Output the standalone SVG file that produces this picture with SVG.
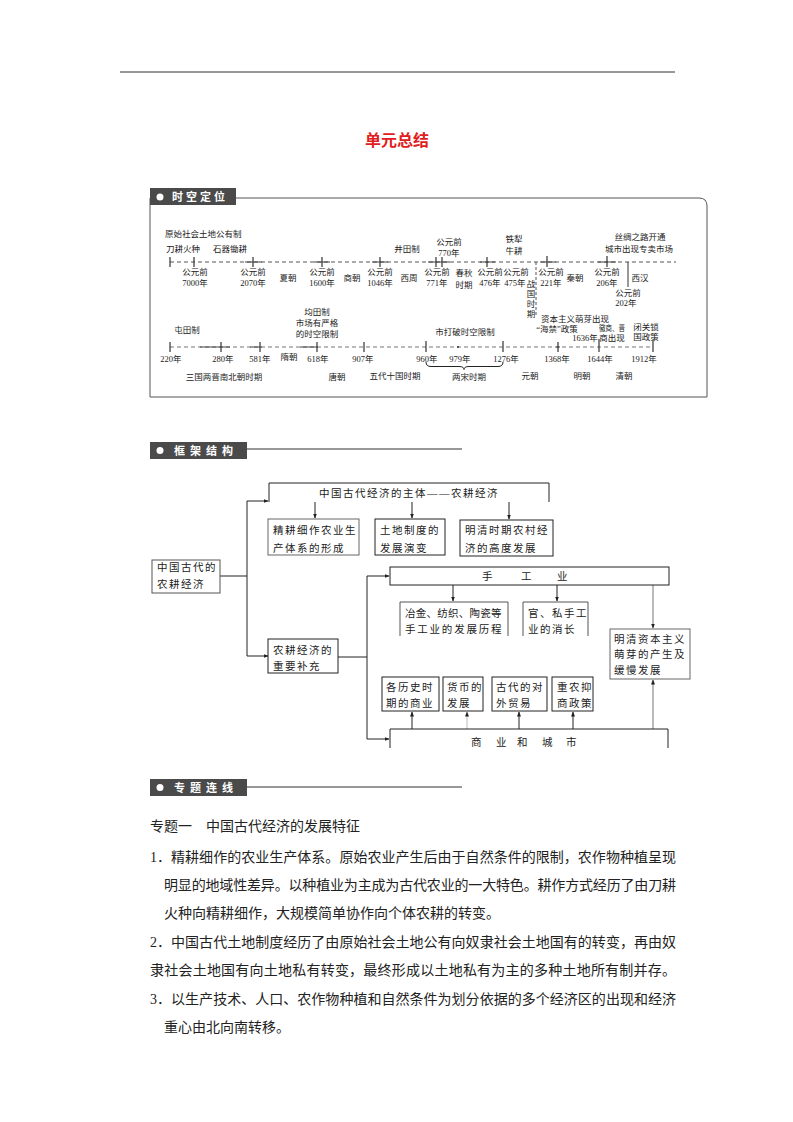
<svg xmlns="http://www.w3.org/2000/svg" width="793" height="1122" viewBox="0 0 793 1122">
<defs>
<marker id="ah" viewBox="0 0 10 10" refX="9" refY="5" markerWidth="5" markerHeight="5" orient="auto">
<path d="M0,1 L10,5 L0,9 z" fill="#222"/>
</marker>
<style>
text{font-family:'Liberation Serif','Noto Sans CJK SC',serif;fill:#222;}
.t{font-size:8.5px;}
.tm{font-size:8.5px;text-anchor:middle;}
.f{font-size:10.5px;letter-spacing:1.5px;}
.body{font-size:14px;}
.tab{fill:#4a4a4a;}
.tabt{fill:#fff;font-size:11px;font-weight:bold;letter-spacing:3px;font-family:'Noto Sans CJK SC',sans-serif;}
.ax{stroke:#444;stroke-width:1;fill:none;}
.dash{stroke:#555;stroke-width:1;stroke-dasharray:4 3;fill:none;}
.tick{stroke:#333;stroke-width:1.2;}
.box{fill:#fff;stroke:#222;stroke-width:1;}
.ln{stroke:#222;stroke-width:1;fill:none;}
.arr{stroke:#222;stroke-width:1;fill:none;marker-end:url(#ah);}
</style>
</defs>
<rect width="793" height="1122" fill="#fff"/>
<line x1="120" y1="72" x2="675" y2="72" stroke="#333" stroke-width="1"/>
<text x="397" y="146" style="font-size:16px;font-weight:bold;fill:#e02020;text-anchor:middle;font-family:'Noto Sans CJK SC',sans-serif;">单元总结</text>

<!-- Section 1 -->
<g id="sec1">
<path d="M150,198 L699,198 Q707,198 707,206 L707,397 L150,397 Z" fill="none" stroke="#555" stroke-width="1"/>
<rect class="tab" x="150" y="188" width="86" height="17"/>
<circle cx="160" cy="197" r="3.5" fill="#fff"/>
<text class="tabt" x="172" y="201">时空定位</text>
</g>

<g id="timeline1">
<line class="dash" x1="170" y1="262" x2="676" y2="262"/>
<path class="ax" d="M245,262H262 M314,262H330 M372,262H388 M428,262H450 M480,262H495 M540,262H556 M598,262H616"/>
<line class="tick" x1="170" y1="257" x2="170" y2="267"/>
<line class="tick" x1="194" y1="257" x2="194" y2="267"/>
<line class="tick" x1="253" y1="257" x2="253" y2="267"/>
<line class="tick" x1="322" y1="257" x2="322" y2="267"/>
<line class="tick" x1="380" y1="257" x2="380" y2="267"/>
<line class="tick" x1="436" y1="257" x2="436" y2="267"/>
<line class="tick" x1="442" y1="257" x2="442" y2="267"/>
<line class="tick" x1="487" y1="257" x2="487" y2="267"/>
<line class="tick" x1="547" y1="256" x2="547" y2="267"/>
<line class="tick" x1="607" y1="256" x2="607" y2="267"/>
<line x1="536" y1="262" x2="536" y2="316" stroke="#555" stroke-width="1" stroke-dasharray="3 2"/>
<line x1="628" y1="262" x2="628" y2="287" stroke="#333" stroke-width="1"/>
<text class="t" x="165" y="237">原始社会土地公有制</text>
<text class="t" x="166" y="252">刀耕火种</text>
<text class="t" x="213" y="252">石器锄耕</text>
<text class="tm" x="195" y="275">公元前</text><text class="tm" x="195" y="286">7000年</text>
<text class="tm" x="253" y="275">公元前</text><text class="tm" x="253" y="286">2070年</text>
<text class="tm" x="288" y="281">夏朝</text>
<text class="tm" x="322" y="275">公元前</text><text class="tm" x="322" y="286">1600年</text>
<text class="tm" x="352" y="281">商朝</text>
<text class="tm" x="380" y="275">公元前</text><text class="tm" x="380" y="286">1046年</text>
<text class="tm" x="409" y="281">西周</text>
<text class="tm" x="407" y="252">井田制</text>
<text class="tm" x="449" y="245">公元前</text><text class="tm" x="449" y="256">770年</text>
<text class="tm" x="437" y="275">公元前</text><text class="tm" x="437" y="286">771年</text>
<text class="tm" x="464" y="276">春秋</text><text class="tm" x="464" y="288">时期</text>
<text class="tm" x="490" y="275">公元前</text><text class="tm" x="490" y="286">476年</text>
<text class="tm" x="514" y="242">铁犁</text><text class="tm" x="514" y="254">牛耕</text>
<text class="tm" x="516" y="275">公元前</text><text class="tm" x="515" y="286">475年</text>
<text class="tm" x="531" y="287">战</text><text class="tm" x="531" y="297">国</text><text class="tm" x="531" y="307">时</text><text class="tm" x="531" y="317">期</text>
<text class="tm" x="551" y="275">公元前</text><text class="tm" x="551" y="286">221年</text>
<text class="tm" x="575" y="281">秦朝</text>
<text class="tm" x="607" y="275">公元前</text><text class="tm" x="607" y="286">206年</text>
<text class="tm" x="640" y="281">西汉</text>
<text class="tm" x="628" y="296">公元前</text><text class="tm" x="626" y="306">202年</text>
<text class="tm" x="640" y="240">丝绸之路开通</text>
<text class="tm" x="639" y="252">城市出现专卖市场</text>
</g>

<g id="timeline2">
<line class="dash" x1="170" y1="347" x2="653" y2="347" style="stroke:#777"/>
<path class="ax" d="M200,347H230 M250,347H262 M300,347H318 M556,347H560"/>
<line class="tick" x1="170" y1="342" x2="170" y2="352"/>
<line class="tick" x1="221" y1="342" x2="221" y2="352"/>
<line class="tick" x1="260" y1="342" x2="260" y2="352"/>
<line class="tick" x1="317" y1="342" x2="317" y2="352"/>
<line class="tick" x1="364" y1="342" x2="364" y2="352"/>
<line class="tick" x1="426" y1="341" x2="426" y2="352"/>
<line class="tick" x1="503" y1="341" x2="503" y2="352"/>
<line class="tick" x1="558" y1="342" x2="558" y2="352"/>
<line class="tick" x1="599" y1="339" x2="599" y2="352"/>
<line class="tick" x1="653" y1="340" x2="653" y2="352"/>
<circle cx="458" cy="347" r="1" fill="#333"/>
<path class="ln" d="M426,362 Q426,366.5 431,366.5 L459,366.5 Q464,366.5 464,369.5 Q464,366.5 469,366.5 L498,366.5 Q503,366.5 503,362"/>
<text class="tm" x="187" y="333">屯田制</text>
<text class="tm" x="171" y="362">220年</text>
<text class="tm" x="223" y="362">280年</text>
<text class="tm" x="260" y="362">581年</text>
<text class="tm" x="289" y="360">隋朝</text>
<text class="tm" x="318" y="362">618年</text>
<text class="tm" x="317" y="315">均田制</text>
<text class="tm" x="317" y="326">市场有严格</text>
<text class="tm" x="317" y="337">的时空限制</text>
<text class="tm" x="224" y="380">三国两晋南北朝时期</text>
<text class="tm" x="337" y="380">唐朝</text>
<text class="tm" x="363" y="362">907年</text>
<text class="tm" x="395" y="379">五代十国时期</text>
<text class="tm" x="427" y="362">960年</text>
<text class="tm" x="460" y="362">979年</text>
<text class="tm" x="506" y="362">1276年</text>
<text class="tm" x="469" y="380">两宋时期</text>
<text class="tm" x="465" y="335">市打破时空限制</text>
<text class="tm" x="530" y="379">元朝</text>
<text class="tm" x="575" y="322">资本主义萌芽出现</text>
<text class="tm" x="557" y="332">“海禁”政策</text>
<text class="tm" x="585" y="341">1636年</text>
<text class="t" x="599" y="331" textLength="26" lengthAdjust="spacingAndGlyphs">徽商、晋</text>
<text class="tm" x="612" y="341">商出现</text>
<text class="tm" x="646" y="330">闭关锁</text>
<text class="tm" x="646" y="340">国政策</text>
<text class="tm" x="557" y="362">1368年</text>
<text class="tm" x="600" y="362">1644年</text>
<text class="tm" x="644" y="362">1912年</text>
<text class="tm" x="582" y="379">明朝</text>
<text class="tm" x="624" y="379">清朝</text>
</g>

<!-- Section 2 -->
<g id="sec2">
<rect class="tab" x="150" y="442" width="97" height="17"/>
<circle cx="160" cy="450.5" r="3.5" fill="#fff"/>
<text class="tabt" x="174" y="455" style="letter-spacing:5px">框架结构</text>
<line x1="247" y1="449" x2="462" y2="449" stroke="#333" stroke-width="1.2"/>
</g>

<g id="connectors">
<path class="ln" d="M220,576H247 M247,501V656"/>
<line class="arr" x1="247" y1="501" x2="268" y2="501"/>
<line class="arr" x1="247" y1="656" x2="268" y2="656"/>
<path class="ln" d="M338,657H367 M367,576V739"/>
<line class="arr" x1="367" y1="576" x2="389" y2="576"/>
<line class="arr" x1="367" y1="739" x2="389" y2="739"/>
<line class="arr" x1="315" y1="502" x2="315" y2="518"/>
<line class="arr" x1="412" y1="502" x2="412" y2="518"/>
<line class="arr" x1="509" y1="502" x2="509" y2="519"/>
<line class="arr" x1="453" y1="585" x2="453" y2="601"/>
<line class="arr" x1="557" y1="585" x2="557" y2="601"/>
<line class="arr" x1="653" y1="585" x2="653" y2="628" style="stroke:#777"/>
<line class="arr" x1="412" y1="729" x2="412" y2="712"/>
<line class="arr" x1="467" y1="729" x2="467" y2="712" style="stroke:#bbb"/>
<line class="arr" x1="519" y1="729" x2="519" y2="712"/>
<line class="arr" x1="573" y1="729" x2="573" y2="712"/>
<line class="arr" x1="653" y1="729" x2="653" y2="680" style="stroke:#777"/>
</g>

<g id="n-root"><rect class="box" x="152" y="560" width="68" height="33" style="stroke:#555"/>
<text class="f" x="157" y="571">中国古代的</text><text class="f" x="157" y="588">农耕经济</text></g>

<g id="n-main"><path class="ln" d="M269,502V483H549V502"/>
<text class="f" x="409" y="497" text-anchor="middle">中国古代经济的主体——农耕经济</text></g>

<g id="n-a1"><rect class="box" x="268" y="519" width="91" height="36" style="stroke:#666"/>
<text class="f" x="273" y="534">精耕细作农业生</text><text class="f" x="273" y="552">产体系的形成</text></g>
<g id="n-a2"><rect class="box" x="375" y="519" width="70" height="36"/>
<text class="f" x="380" y="534">土地制度的</text><text class="f" x="380" y="552">发展演变</text></g>
<g id="n-a3"><rect class="box" x="460" y="520" width="93" height="36"/>
<text class="f" x="465" y="534">明清时期农村经</text><text class="f" x="465" y="552">济的高度发展</text></g>

<g id="n-sup"><rect class="box" x="268" y="639" width="70" height="34"/>
<text class="f" x="273" y="654">农耕经济的</text><text class="f" x="273" y="670">重要补充</text></g>

<g id="n-hand"><rect class="box" x="390" y="567" width="279" height="18"/>
<text class="f" x="488" y="580" text-anchor="middle">手</text><text class="f" x="527" y="580" text-anchor="middle">工</text><text class="f" x="563" y="580" text-anchor="middle">业</text></g>

<g id="n-h1"><path class="ln" d="M400,636V602H508V636" style="stroke:#555"/>
<text class="f" x="405" y="617" textLength="98" lengthAdjust="spacing">冶金、纺织、陶瓷等</text><text class="f" x="405" y="633" textLength="98" lengthAdjust="spacing">手工业的发展历程</text></g>
<g id="n-h2"><path class="ln" d="M523,636V602H588V636" style="stroke:#555"/>
<text class="f" x="528" y="617">官、私手工</text><text class="f" x="528" y="633">业的消长</text></g>

<g id="n-cap"><rect class="box" x="610" y="629" width="80" height="50" style="stroke:#666"/>
<text class="f" x="614" y="643">明清资本主义</text><text class="f" x="614" y="658">萌芽的产生及</text><text class="f" x="614" y="674">缓慢发展</text></g>

<g id="n-c1"><rect class="box" x="382" y="677" width="57" height="34"/>
<text class="f" x="386" y="691">各历史时</text><text class="f" x="386" y="707">期的商业</text></g>
<g id="n-c2"><rect class="box" x="443" y="677" width="40" height="34"/>
<text class="f" x="447" y="691">货币的</text><text class="f" x="447" y="707">发展</text></g>
<g id="n-c3"><rect class="box" x="492" y="677" width="55" height="34"/>
<text class="f" x="496" y="691">古代的对</text><text class="f" x="496" y="707">外贸易</text></g>
<g id="n-c4"><rect class="box" x="552" y="677" width="41" height="34"/>
<text class="f" x="557" y="691">重农抑</text><text class="f" x="557" y="707">商政策</text></g>

<g id="n-com"><path class="ln" d="M390,748V729H668V748"/>
<text class="f" x="477" y="746" text-anchor="middle">商</text><text class="f" x="502" y="746" text-anchor="middle">业</text><text class="f" x="523" y="746" text-anchor="middle">和</text><text class="f" x="548" y="746" text-anchor="middle">城</text><text class="f" x="572" y="746" text-anchor="middle">市</text></g>

<!-- Section 3 -->
<g id="sec3">
<rect class="tab" x="150" y="779" width="97" height="17"/>
<circle cx="160" cy="787.5" r="3.5" fill="#fff"/>
<text class="tabt" x="174" y="792" style="letter-spacing:5px">专题连线</text>
<line x1="247" y1="787" x2="462" y2="787" stroke="#333" stroke-width="1.2"/>
<text class="body" x="150" y="831">专题一　中国古代经济的发展特征</text>
<text class="body" x="150" y="862" textLength="526" lengthAdjust="spacing">1．精耕细作的农业生产体系。原始农业产生后由于自然条件的限制，农作物种植呈现</text>
<text class="body" x="164" y="890" textLength="512" lengthAdjust="spacing">明显的地域性差异。以种植业为主成为古代农业的一大特色。耕作方式经历了由刀耕</text>
<text class="body" x="164" y="918">火种向精耕细作，大规模简单协作向个体农耕的转变。</text>
<text class="body" x="150" y="947" textLength="526" lengthAdjust="spacing">2．中国古代土地制度经历了由原始社会土地公有向奴隶社会土地国有的转变，再由奴</text>
<text class="body" x="150" y="975" textLength="526" lengthAdjust="spacing">隶社会土地国有向土地私有转变，最终形成以土地私有为主的多种土地所有制并存。</text>
<text class="body" x="150" y="1004" textLength="526" lengthAdjust="spacing">3．以生产技术、人口、农作物种植和自然条件为划分依据的多个经济区的出现和经济</text>
<text class="body" x="164" y="1032">重心由北向南转移。</text>
</g>
</svg>
